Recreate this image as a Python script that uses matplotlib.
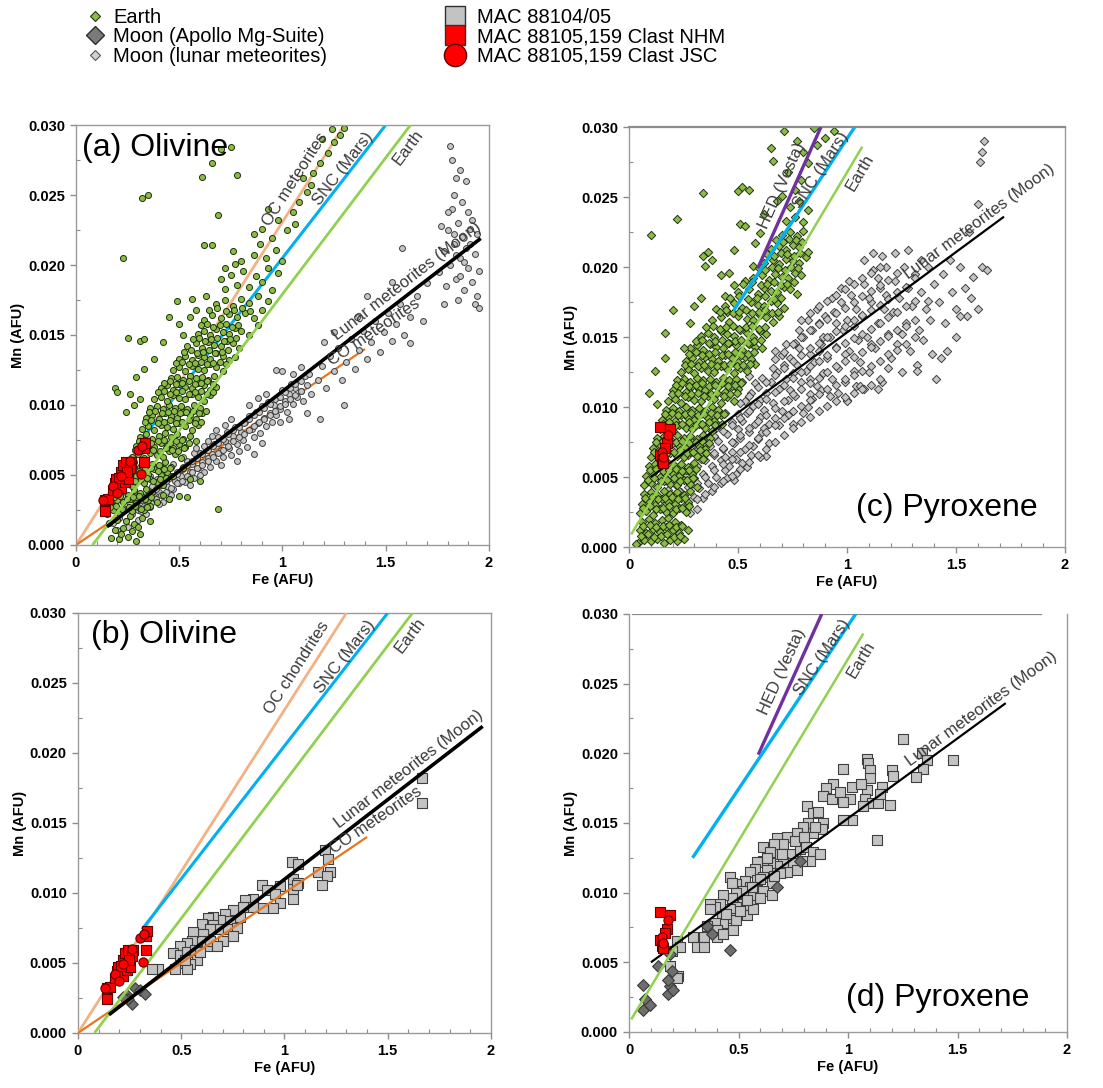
import matplotlib
matplotlib.use("Agg")
import matplotlib.pyplot as plt
from matplotlib.lines import Line2D
from matplotlib.ticker import MultipleLocator, FormatStrFormatter, FuncFormatter
import numpy as np

plt.rcParams['font.family'] = ['Liberation Sans', 'DejaVu Sans']

# ---------------- data (Fe AFU, Mn AFU) ----------------
earth_olivine = [
    (0.17,0.0005),(0.21,0.0004),(0.25,0.0006),(0.29,0.0003),(0.31,0.0008),(0.19,0.0011),(0.23,0.0012),(0.27,0.0010),
    (0.16,0.0016),(0.20,0.0018),(0.24,0.0017),(0.28,0.0015),(0.32,0.0019),(0.26,0.0021),(0.22,0.0008),(0.36,0.0017),(0.30,0.0013),
    (0.15,0.0022),(0.18,0.0025),(0.21,0.0023),(0.24,0.0026),(0.27,0.0024),(0.30,0.0027),(0.33,0.0025),(0.36,0.0028),
    (0.17,0.0030),(0.20,0.0032),(0.23,0.0031),(0.26,0.0033),(0.29,0.0030),(0.32,0.0034),(0.35,0.0032),(0.39,0.0031),
    (0.19,0.0037),(0.22,0.0038),(0.25,0.0036),(0.28,0.0039),(0.31,0.0037),(0.34,0.0040),(0.37,0.0038),(0.42,0.0036),(0.45,0.0033),(0.50,0.0035),
    (0.21,0.0043),(0.24,0.0045),(0.27,0.0042),(0.30,0.0046),(0.33,0.0044),(0.36,0.0047),(0.39,0.0045),(0.42,0.0043),
    (0.23,0.0050),(0.26,0.0052),(0.29,0.0049),(0.32,0.0053),(0.35,0.0051),(0.38,0.0054),(0.41,0.0050),(0.44,0.0052),(0.47,0.0049),
    (0.25,0.0057),(0.28,0.0059),(0.31,0.0056),(0.34,0.0060),(0.37,0.0058),(0.40,0.0057),(0.43,0.0059),(0.46,0.0056),(0.52,0.0055),(0.55,0.0047),
    (0.27,0.0063),(0.30,0.0065),(0.33,0.0062),(0.36,0.0066),(0.39,0.0064),(0.42,0.0063),(0.45,0.0067),(0.48,0.0065),(0.51,0.0062),
    (0.29,0.0071),(0.32,0.0069),(0.35,0.0072),(0.38,0.0070),(0.41,0.0073),(0.44,0.0071),(0.47,0.0069),(0.50,0.0072),(0.53,0.0070),
    (0.31,0.0077),(0.34,0.0079),(0.37,0.0076),(0.40,0.0078),(0.43,0.0080),(0.46,0.0077),(0.49,0.0079),(0.52,0.0076),(0.55,0.0078),(0.58,0.0074),
    (0.32,0.0083),(0.35,0.0085),(0.38,0.0082),(0.41,0.0086),(0.44,0.0084),(0.47,0.0083),(0.50,0.0087),(0.53,0.0085),(0.56,0.0082),(0.59,0.0086),
    (0.34,0.0091),(0.37,0.0093),(0.40,0.0090),(0.43,0.0094),(0.46,0.0092),(0.49,0.0091),(0.52,0.0095),(0.55,0.0093),(0.58,0.0090),(0.61,0.0094),
    (0.36,0.0098),(0.39,0.0099),(0.42,0.0097),(0.45,0.0100),(0.48,0.0098),(0.51,0.0099),(0.54,0.0097),(0.57,0.0100),(0.60,0.0098),(0.63,0.0096),
    (0.38,0.0104),(0.41,0.0106),(0.44,0.0103),(0.47,0.0107),(0.50,0.0105),(0.53,0.0104),(0.56,0.0108),(0.59,0.0106),(0.62,0.0103),(0.65,0.0107),
    (0.41,0.0112),(0.44,0.0114),(0.47,0.0111),(0.50,0.0115),(0.53,0.0113),(0.56,0.0112),(0.59,0.0116),(0.62,0.0114),(0.65,0.0111),(0.68,0.0113),
    (0.46,0.0119),(0.49,0.0120),(0.52,0.0118),(0.55,0.0121),(0.58,0.0119),(0.61,0.0120),(0.64,0.0118),(0.67,0.0121),
    (0.47,0.0125),(0.50,0.0127),(0.53,0.0124),(0.56,0.0128),(0.59,0.0126),(0.62,0.0125),(0.65,0.0129),(0.68,0.0127),(0.71,0.0124),
    (0.50,0.0133),(0.53,0.0135),(0.56,0.0132),(0.59,0.0136),(0.62,0.0134),(0.65,0.0133),(0.68,0.0137),(0.71,0.0135),(0.74,0.0132),(0.77,0.0134),
    (0.54,0.0142),(0.58,0.0144),(0.61,0.0141),(0.64,0.0145),(0.67,0.0143),(0.70,0.0142),(0.73,0.0146),(0.76,0.0144),(0.79,0.0141),
    (0.59,0.0151),(0.62,0.0153),(0.65,0.0150),(0.68,0.0154),(0.71,0.0152),(0.74,0.0151),(0.77,0.0155),(0.80,0.0153),(0.84,0.0150),(0.88,0.0157),
    (0.62,0.0161),(0.66,0.0164),(0.70,0.0162),(0.74,0.0165),(0.78,0.0163),(0.82,0.0166),(0.86,0.0162),(0.90,0.0168),
    (0.68,0.0172),(0.72,0.0175),(0.76,0.0171),(0.80,0.0176),(0.84,0.0173),(0.88,0.0178),(0.93,0.0174),(0.63,0.0178),(0.55,0.0163),(0.50,0.0158),
    (0.72,0.0183),(0.78,0.0186),(0.84,0.0184),(0.90,0.0188),(0.95,0.0182),(0.75,0.0193),(0.81,0.0196),(0.87,0.0192),(0.93,0.0198),(0.98,0.0194),
    (0.80,0.0203),(0.86,0.0207),(0.92,0.0205),(0.97,0.0211),(0.89,0.0215),(0.95,0.0219),(0.70,0.0190),(0.77,0.0201),(1.00,0.0203),
    (1.02,0.0225),(0.98,0.0232),(1.05,0.0238),(1.08,0.0245),(1.12,0.0252),(1.10,0.0262),(1.15,0.0266),(1.18,0.0273),(1.22,0.0280),
    (1.25,0.0288),(1.28,0.0293),(1.24,0.0297),(1.19,0.0290),(1.30,0.0298),(0.93,0.0240),(1.14,0.0257),(1.06,0.0229),
    (0.19,0.0112),(0.20,0.0109),(0.23,0.0205),(0.25,0.0148),(0.31,0.0146),(0.33,0.0147),(0.32,0.0248),(0.35,0.0250),(0.62,0.0214),
    (0.66,0.0214),(0.61,0.0263),(0.66,0.0273),(0.70,0.0283),(0.75,0.0284),(0.78,0.0264),(0.69,0.0236),(0.56,0.0176),(0.49,0.0174),
    (0.45,0.0163),(0.42,0.0145),(0.38,0.0133),(0.33,0.0126),(0.29,0.0120),(0.26,0.0108),(0.28,0.0100),(0.31,0.0104),(0.24,0.0095),
    (0.69,0.0026),(0.54,0.0034),(0.60,0.0046),(0.86,0.0222),(0.90,0.0226),(0.72,0.0198),(0.76,0.0210),(0.58,0.0168),(0.52,0.0150),
]
earth_olivine_core = [
    (0.165,0.0027),(0.195,0.0028),(0.225,0.0026),(0.255,0.0027),(0.285,0.0028),(0.315,0.0026),(0.345,0.0027),
    (0.185,0.0034),(0.215,0.0035),(0.245,0.0033),(0.275,0.0034),(0.305,0.0035),(0.335,0.0033),(0.365,0.0034),
    (0.225,0.0047),(0.255,0.0048),(0.285,0.0046),(0.315,0.0047),(0.345,0.0048),(0.375,0.0046),(0.405,0.0047),(0.435,0.0048),
    (0.245,0.0054),(0.275,0.0055),(0.305,0.0053),(0.335,0.0054),(0.365,0.0055),(0.395,0.0053),(0.425,0.0054),(0.455,0.0055),
    (0.285,0.0068),(0.315,0.0067),(0.345,0.0069),(0.375,0.0068),(0.405,0.0067),(0.435,0.0069),(0.465,0.0068),(0.495,0.0067),(0.525,0.0069),
    (0.305,0.0074),(0.335,0.0075),(0.365,0.0073),(0.395,0.0074),(0.425,0.0075),(0.455,0.0073),(0.485,0.0074),(0.515,0.0075),(0.545,0.0073),
    (0.335,0.0088),(0.365,0.0089),(0.395,0.0087),(0.425,0.0088),(0.455,0.0089),(0.485,0.0087),(0.515,0.0088),(0.545,0.0089),(0.575,0.0087),(0.605,0.0088),
    (0.355,0.0095),(0.385,0.0096),(0.415,0.0094),(0.445,0.0095),(0.475,0.0096),(0.505,0.0094),(0.535,0.0095),(0.565,0.0096),(0.595,0.0094),
    (0.395,0.0109),(0.425,0.0110),(0.455,0.0108),(0.485,0.0109),(0.515,0.0110),(0.545,0.0108),(0.575,0.0109),(0.605,0.0110),(0.635,0.0108),(0.665,0.0109),
    (0.425,0.0116),(0.455,0.0117),(0.485,0.0115),(0.515,0.0116),(0.545,0.0117),(0.575,0.0115),(0.605,0.0116),(0.635,0.0117),(0.665,0.0115),
    (0.485,0.0130),(0.515,0.0131),(0.545,0.0129),(0.575,0.0130),(0.605,0.0131),(0.635,0.0129),(0.665,0.0130),(0.695,0.0131),(0.725,0.0129),
    (0.525,0.0138),(0.555,0.0139),(0.585,0.0137),(0.615,0.0138),(0.645,0.0139),(0.675,0.0137),(0.705,0.0138),(0.735,0.0139),
    (0.565,0.0147),(0.595,0.0148),(0.625,0.0146),(0.655,0.0147),(0.685,0.0148),(0.715,0.0146),(0.745,0.0147),(0.775,0.0148),
    (0.605,0.0157),(0.635,0.0158),(0.665,0.0156),(0.695,0.0157),(0.725,0.0158),(0.755,0.0156),(0.785,0.0157),
    (0.645,0.0168),(0.685,0.0169),(0.725,0.0167),(0.765,0.0168),(0.805,0.0169),(0.845,0.0167),
]

lunar_olivine = [
    (0.18,0.0016),(0.21,0.0019),(0.24,0.0017),(0.27,0.0022),(0.30,0.0025),(0.33,0.0028),(0.22,0.0026),(0.26,0.0029),(0.29,0.0032),
    (0.32,0.0035),(0.35,0.0031),(0.20,0.0011),(0.25,0.0013),(0.30,0.0018),(0.34,0.0022),(0.23,0.0034),(0.28,0.0038),
    (0.36,0.0027),(0.38,0.0034),(0.40,0.0038),(0.42,0.0031),(0.44,0.0042),(0.46,0.0036),(0.48,0.0046),(0.37,0.0042),(0.39,0.0047),
    (0.41,0.0044),(0.43,0.0051),(0.45,0.0048),(0.47,0.0040),(0.49,0.0052),(0.50,0.0044),(0.40,0.0029),(0.45,0.0033),(0.42,0.0055),
    (0.47,0.0058),(0.36,0.0049),
    (0.51,0.0049),(0.52,0.0056),(0.53,0.0045),(0.54,0.0060),(0.55,0.0052),(0.56,0.0058),(0.57,0.0048),(0.58,0.0062),(0.59,0.0055),
    (0.60,0.0066),(0.61,0.0059),(0.62,0.0052),(0.63,0.0068),(0.64,0.0062),(0.65,0.0056),(0.52,0.0063),(0.57,0.0066),(0.60,0.0050),
    (0.62,0.0071),(0.55,0.0043),(0.64,0.0074),(0.58,0.0069),
    (0.66,0.0065),(0.67,0.0072),(0.68,0.0060),(0.69,0.0077),(0.70,0.0068),(0.71,0.0063),(0.72,0.0074),(0.73,0.0081),(0.74,0.0069),
    (0.75,0.0064),(0.76,0.0078),(0.77,0.0084),(0.78,0.0072),(0.79,0.0067),(0.80,0.0081),(0.68,0.0082),(0.72,0.0086),(0.75,0.0090),
    (0.70,0.0057),(0.78,0.0060),(0.66,0.0078),
    (0.81,0.0075),(0.82,0.0088),(0.83,0.0070),(0.84,0.0092),(0.85,0.0083),(0.86,0.0077),(0.87,0.0095),(0.88,0.0087),(0.89,0.0080),
    (0.90,0.0099),(0.91,0.0091),(0.92,0.0085),(0.93,0.0102),(0.94,0.0094),(0.95,0.0088),(0.84,0.0100),(0.88,0.0105),(0.92,0.0108),
    (0.86,0.0065),(0.90,0.0073),
    (0.96,0.0100),(0.97,0.0093),(0.98,0.0106),(0.99,0.0097),(1.00,0.0111),(1.01,0.0103),(1.02,0.0095),(1.03,0.0108),(1.04,0.0115),
    (1.05,0.0101),(1.06,0.0112),(1.07,0.0106),(1.08,0.0118),(1.09,0.0110),(1.10,0.0103),(1.11,0.0121),(1.12,0.0114),(1.14,0.0108),
    (1.00,0.0124),(1.05,0.0122),(1.09,0.0127),(1.13,0.0122),(0.99,0.0088),(1.03,0.0090),
    (1.17,0.0118),(1.19,0.0128),(1.21,0.0112),(1.23,0.0135),(1.25,0.0124),(1.27,0.0141),(1.29,0.0118),(1.31,0.0131),(1.33,0.0147),
    (1.35,0.0126),(1.37,0.0139),(1.39,0.0153),(1.41,0.0133),(1.43,0.0145),(1.45,0.0160),(1.47,0.0138),(1.49,0.0152),(1.51,0.0166),
    (1.53,0.0146),(1.55,0.0158),(1.57,0.0172),(1.59,0.0150),(1.62,0.0163),(1.65,0.0178),(1.68,0.0160),(1.70,0.0187),(1.62,0.0144),
    (1.30,0.0100),(1.18,0.0090),(1.41,0.0178),(1.36,0.0163),(1.25,0.0152),(1.53,0.0188),(1.58,0.0212),(1.20,0.0145),(0.97,0.0125),
    (1.12,0.0094),
    (1.76,0.0195),(1.78,0.0210),(1.79,0.0185),(1.80,0.0225),(1.81,0.0200),(1.82,0.0240),(1.83,0.0215),(1.84,0.0190),(1.85,0.0230),
    (1.86,0.0205),(1.87,0.0220),(1.88,0.0182),(1.89,0.0212),(1.90,0.0198),(1.91,0.0226),(1.92,0.0188),(1.93,0.0208),(1.94,0.0178),
    (1.95,0.0196),(1.83,0.0250),(1.84,0.0262),(1.82,0.0275),(1.81,0.0285),(1.86,0.0268),(1.87,0.0245),(1.90,0.0238),(1.92,0.0232),
    (1.88,0.0202),(1.85,0.0175),(1.93,0.0172),(1.78,0.0172),(1.89,0.0260),(1.91,0.0215),(1.94,0.0222),(1.80,0.0238),(1.86,0.0192),
    (1.84,0.0207),(1.77,0.0228),(1.95,0.0169),(1.83,0.0222),
]
lunar_olivine_core = [
    (0.3125,0.0032),(0.3125,0.0024),(0.3375,0.0035),(0.3375,0.0027),(0.3625,0.0038),(0.3625,0.0030),(0.3875,0.0040),(0.3875,0.0033),
    (0.4125,0.0043),(0.4125,0.0036),(0.4375,0.0046),(0.4375,0.0038),(0.4625,0.0049),(0.4625,0.0041),(0.4875,0.0051),(0.4875,0.0044),
    (0.5125,0.0054),(0.5125,0.0046),(0.5375,0.0057),(0.5375,0.0049),(0.5625,0.0060),(0.5625,0.0052),(0.5875,0.0062),(0.5875,0.0055),
    (0.6125,0.0065),(0.6125,0.0057),(0.6375,0.0068),(0.6375,0.0060),(0.6625,0.0071),(0.6625,0.0063),(0.6875,0.0073),(0.6875,0.0066),
    (0.7125,0.0076),(0.7125,0.0068),(0.7375,0.0079),(0.7375,0.0071),(0.7625,0.0082),(0.7625,0.0074),(0.7875,0.0084),(0.7875,0.0077),
    (0.8125,0.0087),(0.8125,0.0079),(0.8375,0.0090),(0.8375,0.0082),(0.8625,0.0093),(0.8625,0.0085),(0.8875,0.0095),(0.8875,0.0088),
    (0.9125,0.0098),(0.9125,0.0090),(0.9375,0.0101),(0.9375,0.0093),(0.9625,0.0104),(0.9625,0.0096),(0.9875,0.0106),(0.9875,0.0099),
    (1.0125,0.0109),(1.0125,0.0101),(1.0375,0.0112),(1.0375,0.0104),(1.0625,0.0115),(1.0625,0.0107),(1.0875,0.0117),(1.0875,0.0110),
]

earth_pyroxene = [
    (0.04,0.0003),(0.07,0.0005),(0.10,0.0004),(0.13,0.0006),(0.16,0.0003),(0.19,0.0005),(0.22,0.0004),(0.25,0.0006),
    (0.05,0.0012),(0.08,0.0010),(0.11,0.0013),(0.14,0.0011),(0.17,0.0014),(0.20,0.0012),(0.23,0.0010),
    (0.06,0.0018),(0.09,0.0020),(0.12,0.0017),(0.15,0.0019),(0.18,0.0021),(0.21,0.0018),(0.24,0.0016),(0.27,0.0012),
    (0.05,0.0024),(0.08,0.0026),(0.11,0.0023),(0.14,0.0027),(0.17,0.0025),(0.20,0.0024),(0.23,0.0028),(0.26,0.0025),
    (0.06,0.0031),(0.09,0.0033),(0.12,0.0030),(0.15,0.0034),(0.18,0.0032),(0.21,0.0031),(0.24,0.0035),(0.27,0.0032),
    (0.07,0.0038),(0.10,0.0039),(0.13,0.0037),(0.16,0.0040),(0.19,0.0038),(0.22,0.0039),(0.25,0.0037),(0.28,0.0040),
    (0.07,0.0044),(0.10,0.0046),(0.13,0.0043),(0.16,0.0047),(0.19,0.0045),(0.22,0.0044),(0.25,0.0048),(0.28,0.0045),(0.31,0.0043),
    (0.08,0.0051),(0.11,0.0053),(0.14,0.0050),(0.17,0.0054),(0.20,0.0052),(0.23,0.0051),(0.26,0.0055),(0.29,0.0052),
    (0.09,0.0058),(0.12,0.0059),(0.15,0.0057),(0.18,0.0060),(0.21,0.0058),(0.24,0.0059),(0.27,0.0057),(0.30,0.0060),
    (0.10,0.0064),(0.13,0.0066),(0.16,0.0063),(0.19,0.0067),(0.22,0.0065),(0.25,0.0064),(0.28,0.0068),(0.31,0.0065),(0.34,0.0063),
    (0.11,0.0071),(0.14,0.0073),(0.17,0.0070),(0.20,0.0074),(0.23,0.0072),(0.26,0.0071),(0.29,0.0075),(0.32,0.0072),(0.35,0.0070),
    (0.13,0.0078),(0.16,0.0079),(0.19,0.0077),(0.22,0.0080),(0.25,0.0078),(0.28,0.0079),(0.31,0.0077),(0.34,0.0080),(0.37,0.0078),
    (0.14,0.0084),(0.17,0.0086),(0.20,0.0083),(0.23,0.0087),(0.26,0.0085),(0.29,0.0084),(0.32,0.0088),(0.35,0.0085),(0.38,0.0083),(0.41,0.0087),
    (0.15,0.0091),(0.18,0.0093),(0.21,0.0090),(0.24,0.0094),(0.27,0.0092),(0.30,0.0091),(0.33,0.0095),(0.36,0.0092),(0.39,0.0090),(0.42,0.0094),
    (0.17,0.0098),(0.20,0.0099),(0.23,0.0097),(0.26,0.0100),(0.29,0.0098),(0.32,0.0099),(0.35,0.0097),(0.38,0.0100),(0.41,0.0098),(0.44,0.0096),
    (0.18,0.0104),(0.21,0.0106),(0.24,0.0103),(0.27,0.0107),(0.30,0.0105),(0.33,0.0104),(0.36,0.0108),(0.39,0.0106),(0.42,0.0103),(0.45,0.0107),(0.48,0.0104),
    (0.20,0.0112),(0.23,0.0114),(0.26,0.0111),(0.29,0.0115),(0.32,0.0113),(0.35,0.0112),(0.38,0.0116),(0.41,0.0114),(0.44,0.0111),(0.47,0.0115),(0.50,0.0113),
    (0.22,0.0119),(0.25,0.0120),(0.28,0.0118),(0.31,0.0121),(0.34,0.0119),(0.37,0.0120),(0.40,0.0118),(0.43,0.0121),(0.46,0.0119),(0.49,0.0120),(0.52,0.0118),
    (0.24,0.0125),(0.27,0.0127),(0.30,0.0124),(0.33,0.0128),(0.36,0.0126),(0.39,0.0125),(0.42,0.0129),(0.45,0.0127),(0.48,0.0124),(0.51,0.0128),(0.54,0.0126),
    (0.26,0.0133),(0.29,0.0135),(0.32,0.0132),(0.35,0.0136),(0.38,0.0134),(0.41,0.0133),(0.44,0.0137),(0.47,0.0135),(0.50,0.0132),(0.53,0.0136),(0.56,0.0134),(0.58,0.0131),
    (0.28,0.0142),(0.31,0.0144),(0.34,0.0141),(0.37,0.0145),(0.40,0.0143),(0.43,0.0142),(0.46,0.0146),(0.49,0.0144),(0.52,0.0141),(0.55,0.0145),(0.58,0.0143),(0.61,0.0142),
    (0.33,0.0151),(0.36,0.0153),(0.39,0.0150),(0.42,0.0154),(0.45,0.0152),(0.48,0.0151),(0.51,0.0155),(0.54,0.0153),(0.57,0.0150),(0.60,0.0154),(0.63,0.0152),
    (0.38,0.0162),(0.42,0.0164),(0.46,0.0161),(0.50,0.0165),(0.54,0.0163),(0.57,0.0162),(0.60,0.0166),(0.63,0.0164),(0.66,0.0161),(0.69,0.0165),
    (0.44,0.0172),(0.48,0.0174),(0.52,0.0171),(0.56,0.0175),(0.59,0.0173),(0.62,0.0172),(0.65,0.0176),(0.68,0.0174),(0.71,0.0171),
    (0.50,0.0182),(0.55,0.0184),(0.59,0.0181),(0.62,0.0185),(0.65,0.0183),(0.68,0.0182),(0.71,0.0186),(0.74,0.0184),(0.77,0.0181),
    (0.57,0.0192),(0.61,0.0194),(0.64,0.0191),(0.67,0.0195),(0.70,0.0193),(0.73,0.0192),(0.76,0.0196),(0.79,0.0194),(0.53,0.0190),
    (0.62,0.0203),(0.66,0.0205),(0.69,0.0202),(0.72,0.0206),(0.75,0.0204),(0.78,0.0203),(0.81,0.0207),(0.65,0.0213),(0.69,0.0215),
    (0.72,0.0212),(0.75,0.0216),(0.78,0.0214),(0.82,0.0211),(0.70,0.0223),(0.74,0.0225),(0.77,0.0222),(0.80,0.0226),
    (0.72,0.0233),(0.76,0.0236),(0.80,0.0232),(0.74,0.0243),(0.78,0.0247),(0.82,0.0241),(0.70,0.0251),(0.76,0.0255),(0.79,0.0262),
    (0.73,0.0268),(0.66,0.0276),(0.82,0.0274),(0.71,0.0297),(0.65,0.0285),(0.86,0.0287),(0.90,0.0292),(0.85,0.0299),(0.94,0.0297),
    (0.80,0.0282),(0.77,0.0290),
    (0.10,0.0223),(0.22,0.0234),(0.34,0.0253),(0.50,0.0254),(0.52,0.0257),(0.55,0.0255),(0.51,0.0231),(0.53,0.0229),(0.34,0.0208),
    (0.36,0.0211),(0.38,0.0205),(0.35,0.0201),(0.20,0.0169),(0.165,0.0153),(0.165,0.0135),(0.25,0.0142),(0.30,0.0172),(0.33,0.0178),
    (0.28,0.0160),(0.48,0.0187),(0.46,0.0196),(0.44,0.0179),(0.58,0.0217),(0.60,0.0224),(0.48,0.0212),(0.42,0.0194),(0.09,0.0110),
    (0.12,0.0126),(0.13,0.0102),(0.40,0.0170),(0.45,0.0168),(0.68,0.0247),(0.62,0.0238),(0.57,0.0201),(0.03,0.0002),
]
earth_pyroxene_core = [
    (0.055,0.0008),(0.085,0.0009),(0.115,0.0007),(0.145,0.0008),(0.175,0.0009),(0.205,0.0007),(0.235,0.0008),
    (0.065,0.0015),(0.095,0.0016),(0.125,0.0014),(0.155,0.0015),(0.185,0.0016),(0.215,0.0014),(0.245,0.0015),
    (0.065,0.0028),(0.095,0.0029),(0.125,0.0027),(0.155,0.0028),(0.185,0.0029),(0.215,0.0027),(0.245,0.0028),(0.275,0.0029),
    (0.075,0.0035),(0.105,0.0036),(0.135,0.0034),(0.165,0.0035),(0.195,0.0036),(0.225,0.0034),(0.255,0.0035),
    (0.085,0.0048),(0.115,0.0049),(0.145,0.0047),(0.175,0.0048),(0.205,0.0049),(0.235,0.0047),(0.265,0.0048),(0.295,0.0049),
    (0.095,0.0055),(0.125,0.0056),(0.155,0.0054),(0.185,0.0055),(0.215,0.0056),(0.245,0.0054),(0.275,0.0055),(0.305,0.0056),
    (0.115,0.0068),(0.145,0.0069),(0.175,0.0067),(0.205,0.0068),(0.235,0.0069),(0.265,0.0067),(0.295,0.0068),(0.325,0.0069),(0.355,0.0067),
    (0.125,0.0075),(0.155,0.0076),(0.185,0.0074),(0.215,0.0075),(0.245,0.0076),(0.275,0.0074),(0.305,0.0075),(0.335,0.0076),(0.365,0.0074),
    (0.155,0.0088),(0.185,0.0089),(0.215,0.0087),(0.245,0.0088),(0.275,0.0089),(0.305,0.0087),(0.335,0.0088),(0.365,0.0089),(0.395,0.0087),(0.425,0.0088),
    (0.165,0.0095),(0.195,0.0096),(0.225,0.0094),(0.255,0.0095),(0.285,0.0096),(0.315,0.0094),(0.345,0.0095),(0.375,0.0096),(0.405,0.0094),(0.435,0.0095),
    (0.195,0.0109),(0.225,0.0110),(0.255,0.0108),(0.285,0.0109),(0.315,0.0110),(0.345,0.0108),(0.375,0.0109),(0.405,0.0110),(0.435,0.0108),(0.465,0.0109),(0.495,0.0110),
    (0.215,0.0116),(0.245,0.0117),(0.275,0.0115),(0.305,0.0116),(0.335,0.0117),(0.365,0.0115),(0.395,0.0116),(0.425,0.0117),(0.455,0.0115),(0.485,0.0116),(0.515,0.0117),
    (0.255,0.0130),(0.285,0.0131),(0.315,0.0129),(0.345,0.0130),(0.375,0.0131),(0.405,0.0129),(0.435,0.0130),(0.465,0.0131),(0.495,0.0129),(0.525,0.0130),(0.555,0.0131),
    (0.275,0.0138),(0.305,0.0139),(0.335,0.0137),(0.365,0.0138),(0.395,0.0139),(0.425,0.0137),(0.455,0.0138),(0.485,0.0139),(0.515,0.0137),(0.545,0.0138),(0.575,0.0139),
    (0.305,0.0147),(0.335,0.0148),(0.365,0.0146),(0.395,0.0147),(0.425,0.0148),(0.455,0.0146),(0.485,0.0147),(0.515,0.0148),(0.545,0.0146),(0.575,0.0147),(0.605,0.0148),
    (0.355,0.0157),(0.385,0.0158),(0.415,0.0156),(0.445,0.0157),(0.475,0.0158),(0.505,0.0156),(0.535,0.0157),(0.565,0.0158),(0.595,0.0156),(0.625,0.0157),
    (0.415,0.0168),(0.445,0.0169),(0.475,0.0167),(0.505,0.0168),(0.535,0.0169),(0.565,0.0167),(0.595,0.0168),(0.625,0.0169),(0.655,0.0167),(0.685,0.0168),
    (0.465,0.0178),(0.505,0.0179),(0.545,0.0177),(0.585,0.0178),(0.625,0.0179),(0.665,0.0177),(0.695,0.0178),
    (0.525,0.0188),(0.565,0.0189),(0.605,0.0187),(0.635,0.0188),(0.665,0.0189),(0.695,0.0187),(0.725,0.0188),(0.755,0.0189),
    (0.595,0.0199),(0.625,0.0198),(0.655,0.0200),(0.685,0.0199),(0.715,0.0198),(0.745,0.0200),(0.775,0.0199),
    (0.635,0.0209),(0.665,0.0208),(0.695,0.0210),(0.725,0.0209),(0.755,0.0208),(0.785,0.0210),
    (0.675,0.0219),(0.705,0.0218),(0.735,0.0220),(0.765,0.0219),(0.795,0.0218),
]

lunar_pyroxene = [
    (0.16,0.0030),(0.19,0.0026),(0.22,0.0034),(0.25,0.0029),(0.28,0.0024),(0.18,0.0041),(0.21,0.0045),(0.24,0.0039),(0.27,0.0047),
    (0.30,0.0036),(0.20,0.0053),(0.23,0.0056),(0.26,0.0051),(0.29,0.0058),(0.31,0.0027),(0.17,0.0049),(0.30,0.0049),
    (0.32,0.0042),(0.34,0.0052),(0.36,0.0046),(0.38,0.0058),(0.40,0.0050),(0.42,0.0062),(0.44,0.0055),(0.33,0.0063),(0.35,0.0068),
    (0.37,0.0072),(0.39,0.0066),(0.41,0.0076),(0.43,0.0070),(0.45,0.0081),(0.34,0.0035),(0.38,0.0040),(0.42,0.0046),(0.36,0.0078),
    (0.40,0.0085),(0.44,0.0064),(0.31,0.0071),(0.45,0.0049),
    (0.46,0.0058),(0.47,0.0068),(0.48,0.0074),(0.49,0.0063),(0.50,0.0084),(0.51,0.0078),(0.52,0.0090),(0.53,0.0070),(0.54,0.0096),
    (0.55,0.0082),(0.56,0.0066),(0.57,0.0101),(0.58,0.0088),(0.59,0.0077),(0.60,0.0105),(0.47,0.0089),(0.50,0.0095),(0.53,0.0104),
    (0.56,0.0110),(0.58,0.0117),(0.52,0.0060),(0.57,0.0072),(0.49,0.0052),(0.60,0.0093),(0.55,0.0122),
    (0.61,0.0082),(0.62,0.0098),(0.63,0.0110),(0.64,0.0088),(0.65,0.0118),(0.66,0.0103),(0.67,0.0092),(0.68,0.0125),(0.69,0.0113),
    (0.70,0.0097),(0.71,0.0130),(0.72,0.0120),(0.73,0.0105),(0.74,0.0135),(0.75,0.0124),(0.62,0.0085),(0.66,0.0128),(0.70,0.0137),
    (0.74,0.0112),(0.64,0.0074),(0.69,0.0087),(0.73,0.0094),(0.61,0.0121),(0.67,0.0140),(0.72,0.0145),(0.63,0.0065),
    (0.76,0.0108),(0.77,0.0130),(0.78,0.0142),(0.79,0.0118),(0.80,0.0150),(0.81,0.0126),(0.82,0.0100),(0.83,0.0138),(0.84,0.0155),
    (0.85,0.0132),(0.86,0.0115),(0.87,0.0160),(0.88,0.0145),(0.89,0.0124),(0.90,0.0165),(0.78,0.0155),(0.82,0.0162),(0.86,0.0170),
    (0.80,0.0096),(0.84,0.0106),(0.88,0.0112),(0.76,0.0146),(0.83,0.0120),(0.87,0.0140),(0.89,0.0150),
    (0.91,0.0135),(0.92,0.0150),(0.93,0.0120),(0.94,0.0168),(0.95,0.0143),(0.96,0.0128),(0.97,0.0175),(0.98,0.0155),(0.99,0.0118),
    (1.00,0.0162),(1.01,0.0140),(1.02,0.0180),(1.03,0.0126),(1.04,0.0170),(1.05,0.0148),(0.93,0.0178),(0.97,0.0185),(1.01,0.0190),
    (0.92,0.0108),(0.96,0.0110),(1.00,0.0105),(1.04,0.0115),(0.95,0.0160),(0.99,0.0138),(1.03,0.0158),
    (1.06,0.0132),(1.07,0.0165),(1.08,0.0188),(1.09,0.0150),(1.10,0.0125),(1.11,0.0175),(1.12,0.0198),(1.13,0.0142),(1.14,0.0160),
    (1.15,0.0185),(1.16,0.0118),(1.17,0.0170),(1.18,0.0200),(1.19,0.0152),(1.20,0.0135),(1.08,0.0205),(1.12,0.0210),(1.16,0.0208),
    (1.06,0.0115),(1.10,0.0178),(1.14,0.0192),(1.18,0.0180),(1.11,0.0145),(1.19,0.0128),
    (1.21,0.0168),(1.22,0.0190),(1.23,0.0145),(1.24,0.0178),(1.25,0.0125),(1.26,0.0200),(1.27,0.0160),(1.28,0.0185),(1.29,0.0140),
    (1.30,0.0172),(1.31,0.0195),(1.32,0.0130),(1.33,0.0155),(1.34,0.0182),(1.35,0.0148),(1.36,0.0170),(1.37,0.0200),(1.38,0.0162),
    (1.39,0.0138),(1.40,0.0188),(1.22,0.0210),(1.28,0.0212),(1.34,0.0205),(1.25,0.0152),(1.31,0.0162),(1.37,0.0176),
    (1.42,0.0175),(1.44,0.0195),(1.45,0.0160),(1.47,0.0205),(1.48,0.0182),(1.50,0.0170),(1.52,0.0200),(1.54,0.0185),(1.55,0.0165),
    (1.57,0.0178),(1.58,0.0193),(1.60,0.0170),(1.62,0.0200),(1.64,0.0198),(1.56,0.0225),(1.60,0.0245),(1.62,0.0282),(1.63,0.0290),
    (1.61,0.0275),(1.52,0.0165),(1.43,0.0135),(1.46,0.0140),(1.50,0.0150),(1.41,0.0120),
    (1.32,0.0126),(1.14,0.0113),(1.08,0.0113),(1.00,0.0104),(0.83,0.0109),(0.60,0.0064),(0.75,0.0088),(0.54,0.0057),(0.48,0.0048),
]
lunar_pyroxene_core = [
    (0.23,0.0028),(0.23,0.0040),(0.23,0.0052),
    (0.27,0.0031),(0.27,0.0043),(0.27,0.0055),(0.27,0.0066),
    (0.31,0.0034),(0.31,0.0046),(0.31,0.0058),(0.31,0.0069),
    (0.35,0.0038),(0.35,0.0050),(0.35,0.0062),(0.35,0.0074),
    (0.39,0.0043),(0.39,0.0055),(0.39,0.0067),(0.39,0.0079),
    (0.43,0.0047),(0.43,0.0059),(0.43,0.0071),(0.43,0.0083),
    (0.47,0.0051),(0.47,0.0063),(0.47,0.0075),(0.47,0.0087),
    (0.51,0.0056),(0.51,0.0068),(0.51,0.0080),(0.51,0.0092),(0.51,0.0103),
    (0.55,0.0061),(0.55,0.0073),(0.55,0.0085),(0.55,0.0097),(0.55,0.0108),
    (0.59,0.0066),(0.59,0.0078),(0.59,0.0090),(0.59,0.0102),(0.59,0.0114),
    (0.63,0.0070),(0.63,0.0082),(0.63,0.0094),(0.63,0.0106),(0.63,0.0118),
    (0.67,0.0075),(0.67,0.0087),(0.67,0.0099),(0.67,0.0111),(0.67,0.0123),(0.67,0.0134),
    (0.71,0.0080),(0.71,0.0092),(0.71,0.0104),(0.71,0.0116),(0.71,0.0128),(0.71,0.0139),
    (0.75,0.0085),(0.75,0.0097),(0.75,0.0109),(0.75,0.0121),(0.75,0.0133),(0.75,0.0145),
    (0.79,0.0089),(0.79,0.0101),(0.79,0.0113),(0.79,0.0125),(0.79,0.0137),(0.79,0.0150),(0.79,0.0162),
    (0.83,0.0093),(0.83,0.0105),(0.83,0.0117),(0.83,0.0129),(0.83,0.0142),(0.83,0.0155),(0.83,0.0167),
    (0.87,0.0097),(0.87,0.0109),(0.87,0.0121),(0.87,0.0133),(0.87,0.0146),(0.87,0.0159),(0.87,0.0172),
    (0.91,0.0101),(0.91,0.0113),(0.91,0.0125),(0.91,0.0137),(0.91,0.0150),(0.91,0.0163),(0.91,0.0176),
    (0.95,0.0104),(0.95,0.0116),(0.95,0.0129),(0.95,0.0142),(0.95,0.0154),(0.95,0.0167),(0.95,0.0180),
    (0.99,0.0107),(0.99,0.0120),(0.99,0.0133),(0.99,0.0146),(0.99,0.0158),(0.99,0.0171),(0.99,0.0184),
    (1.03,0.0110),(1.03,0.0123),(1.03,0.0136),(1.03,0.0149),(1.03,0.0162),(1.03,0.0175),(1.03,0.0188),
    (1.07,0.0113),(1.07,0.0126),(1.07,0.0139),(1.07,0.0152),(1.07,0.0166),(1.07,0.0179),(1.07,0.0192),
    (1.11,0.0116),(1.11,0.0129),(1.11,0.0143),(1.11,0.0156),(1.11,0.0169),(1.11,0.0183),(1.11,0.0196),
    (1.15,0.0120),(1.15,0.0133),(1.15,0.0147),(1.15,0.0160),(1.15,0.0173),(1.15,0.0187),(1.15,0.0200),
    (1.19,0.0138),(1.19,0.0151),(1.19,0.0164),(1.19,0.0177),(1.19,0.0191),
    (1.23,0.0141),(1.23,0.0155),(1.23,0.0168),(1.23,0.0182),(1.23,0.0196),
    (1.27,0.0145),(1.27,0.0158),(1.27,0.0172),(1.27,0.0186),
    (1.31,0.0150),(1.31,0.0176),(1.31,0.0192),
]

# MAC 88104/05 (grey squares)
mac_olivine = [
    (1.667,0.0182),(1.667,0.0164),(1.196,0.0131),(1.212,0.0124),(1.164,0.0115),(1.220,0.0115),(1.204,0.0112),(1.180,0.0106),
    (1.035,0.0122),(1.067,0.0121),(1.043,0.0110),(1.067,0.0107),(1.043,0.0103),(1.060,0.0106),(1.043,0.0096),(0.978,0.0105),
    (0.890,0.0106),(0.914,0.0102),(0.954,0.0099),(0.978,0.0093),(0.946,0.0089),(0.898,0.0089),(0.850,0.0096),(0.809,0.0095),
    (0.850,0.0090),(0.800,0.0090),(0.785,0.0083),(0.752,0.0088),(0.712,0.0085),(0.736,0.0080),(0.688,0.0081),(0.655,0.0083),
    (0.631,0.0082),(0.599,0.0078),(0.655,0.0077),(0.680,0.0074),(0.728,0.0074),(0.768,0.0075),(0.752,0.0069),(0.639,0.0074),
    (0.607,0.0071),(0.591,0.0066),(0.559,0.0072),(0.551,0.0066),(0.526,0.0064),(0.494,0.0062),(0.462,0.0057),(0.494,0.0056),
    (0.526,0.0058),(0.567,0.0059),(0.623,0.0062),(0.575,0.0052),(0.542,0.0049),(0.510,0.0050),(0.470,0.0046),(0.526,0.0046),
    (0.389,0.0046),(0.357,0.0046),(0.639,0.0066),(0.704,0.0066),(0.672,0.0062),(0.518,0.0052),(0.591,0.0058),
]
mac_pyroxene = [
    (1.253,0.0210),(1.478,0.0195),(1.085,0.0196),(1.090,0.0193),(1.200,0.0188),(0.979,0.0189),(1.207,0.0184),(1.336,0.0200),
    (1.360,0.0195),(1.340,0.0189),(1.310,0.0183),(1.100,0.0188),(1.100,0.0182),(0.930,0.0178),(0.900,0.0175),(1.020,0.0176),
    (1.085,0.0174),(1.060,0.0178),(0.887,0.0169),(0.925,0.0167),(0.963,0.0172),(1.010,0.0167),(0.979,0.0165),(1.077,0.0167),
    (1.108,0.0164),(1.138,0.0164),(1.154,0.0176),(1.146,0.0171),(1.070,0.0162),(1.190,0.0163),(1.017,0.0152),(0.979,0.0152),
    (1.130,0.0138),
    (0.811,0.0162),(0.842,0.0157),(0.864,0.0158),(0.819,0.0150),(0.887,0.0150),(0.880,0.0146),(0.842,0.0143),(0.796,0.0147),
    (0.766,0.0143),(0.720,0.0140),(0.674,0.0139),(0.705,0.0135),(0.660,0.0135),(0.613,0.0133),(0.644,0.0129),(0.690,0.0128),
    (0.735,0.0128),(0.781,0.0131),(0.810,0.0133),(0.842,0.0129),(0.872,0.0128),(0.826,0.0123),(0.788,0.0123),(0.750,0.0121),
    (0.765,0.0116),(0.705,0.0122),(0.674,0.0119),(0.644,0.0121),(0.613,0.0123),(0.583,0.0122),(0.575,0.0117),(0.553,0.0115),
    (0.628,0.0116),(0.720,0.0115),(0.690,0.0114),(0.613,0.0111),(0.583,0.0109),(0.651,0.0107),(0.530,0.0108),(0.490,0.0106),
    (0.460,0.0111),(0.469,0.0107),(0.553,0.0104),(0.583,0.0102),(0.613,0.0101),(0.651,0.0098),(0.598,0.0096),(0.553,0.0098),
    (0.522,0.0101),(0.490,0.0100),(0.469,0.0096),(0.522,0.0092),(0.553,0.0091),(0.490,0.0090),(0.461,0.0088),(0.430,0.0098),
    (0.415,0.0092),(0.392,0.0090),(0.370,0.0092),(0.370,0.0088),(0.423,0.0083),(0.469,0.0082),(0.430,0.0078),(0.392,0.0078),
    (0.400,0.0073),(0.355,0.0076),(0.340,0.0068),(0.294,0.0068),(0.310,0.0061),(0.340,0.0061),(0.400,0.0068),(0.430,0.0070),
    (0.476,0.0073),(0.490,0.0080),(0.537,0.0084),(0.568,0.0088),(0.218,0.0065),(0.233,0.0061),(0.195,0.0058),(0.225,0.0040),
    (0.187,0.0047),(0.218,0.0039),(0.600,0.0110),(0.540,0.0095),(0.505,0.0087),(0.445,0.0085),(0.660,0.0112),(0.700,0.0128),
    (0.760,0.0137),(0.800,0.0140),(0.850,0.0147),(0.560,0.0104),(0.630,0.0125),
]

# Moon (Apollo Mg-Suite) (dark grey diamonds)
apollo_olivine = [(0.260,0.0021),(0.236,0.0027),(0.276,0.0032),(0.300,0.0031),(0.324,0.0028),(0.244,0.0024),(0.220,0.0026)]
apollo_pyroxene = [
    (0.065,0.0034),(0.073,0.0024),(0.065,0.0016),(0.096,0.0019),(0.134,0.0047),(0.180,0.0027),(0.187,0.0033),(0.195,0.0044),
    (0.180,0.0037),(0.202,0.0030),(0.461,0.0059),(0.355,0.0076),(0.378,0.0070),(0.674,0.0104),(0.781,0.0123),(0.187,0.0056),
]

# MAC 88105,159 clast (red)
nhm_olivine = [
    (0.14,0.0024),(0.14,0.0032),(0.155,0.0033),(0.18,0.0039),(0.19,0.0044),(0.195,0.0047),(0.22,0.0041),(0.235,0.0045),
    (0.25,0.0047),(0.22,0.0052),(0.23,0.0057),(0.24,0.0059),(0.265,0.0059),(0.26,0.0055),(0.245,0.0052),(0.33,0.0059),
    (0.33,0.0069),(0.335,0.0073),(0.21,0.0048),
]
jsc_olivine = [(0.13,0.0032),(0.30,0.0068),(0.315,0.0051),(0.18,0.0042),(0.22,0.0049),(0.26,0.0060),(0.32,0.0071),(0.20,0.0037)]
nhm_pyroxene = [(0.142,0.0086),(0.187,0.0084),(0.172,0.0074),(0.164,0.0071),(0.142,0.0066),(0.149,0.0062),(0.157,0.0060)]
jsc_pyroxene = [(0.150,0.0068),(0.155,0.0064),(0.180,0.0080)]

# Reference trend lines: name -> ((Fe0, Mn0), (Fe1, Mn1))
olivine_lines = {
    'OC': ((0.0, 0.0), (1.30, 0.030)),
    'SNC': ((0.31, 0.0074), (1.50, 0.030)),
    'Earth': ((0.08, 0.0), (1.62, 0.030)),
    'Moon': ((0.15, 0.0013), (1.96, 0.0219)),
    'CO': ((0.0, 0.0), (1.40, 0.0140)),
}
pyroxene_lines_c = {
    'HED': ((0.59, 0.0199), (0.88, 0.030)),
    'SNC': ((0.48, 0.0169), (1.035, 0.030)),
    'Earth': ((0.01, 0.0009), (1.07, 0.0286)),
    'Moon': ((0.10, 0.0050), (1.72, 0.0236)),
}
pyroxene_lines_d = dict(pyroxene_lines_c)
pyroxene_lines_d['SNC'] = ((0.29, 0.0125), (1.035, 0.030))

xticks = [0, 0.5, 1, 1.5, 2]
yticks = [0.000, 0.005, 0.010, 0.015, 0.020, 0.025, 0.030]

# ---------------- styles ----------------
C_EARTH_F, C_EARTH_E = '#8CBB48', '#1E340C'
C_LUN_F, C_LUN_E = '#C6C6C6', '#3E3E3E'
C_MAC_F, C_MAC_E = '#C3C3C3', '#3F3F3F'
C_APO_F, C_APO_E = '#6E6E6E', '#3A3A3A'
C_RED_F, C_RED_E = '#FF0000', '#600000'
LINE_COL = {'OC': '#F4B183', 'SNC': '#00B0F0', 'Earth': '#92D050', 'Moon': '#000000',
            'CO': '#E8761E', 'HED': '#7030A0'}
TXT = '#3A3A3A'

fig = plt.figure(figsize=(11.03, 10.88), dpi=100)
ax_a = fig.add_axes([0.0689, 0.4991, 0.3744, 0.3860])
ax_b = fig.add_axes([0.0707, 0.0506, 0.3744, 0.3860])
ax_c = fig.add_axes([0.5703, 0.4972, 0.3953, 0.3860])
ax_d = fig.add_axes([0.5703, 0.0515, 0.3971, 0.3842])


def style(ax):
    ax.set_xlim(0, 2)
    ax.set_ylim(0, 0.03)
    ax.set_xticks(xticks)
    ax.set_yticks(yticks)
    ax.xaxis.set_minor_locator(MultipleLocator(0.1))
    ax.yaxis.set_minor_locator(MultipleLocator(0.0025))
    ax.yaxis.set_major_formatter(FormatStrFormatter('%.3f'))
    ax.xaxis.set_major_formatter(FuncFormatter(lambda v, p: f'{v:g}'))
    ax.tick_params(which='major', direction='out', length=4, width=1, color='#8C8C8C',
                   labelsize=10.5, pad=4)
    ax.tick_params(which='minor', direction='in', length=3, width=0.8, color='#8C8C8C')
    for lab in ax.get_xticklabels() + ax.get_yticklabels():
        lab.set_fontweight('bold')
    for s in ax.spines.values():
        s.set_color('#9A9A9A')
        s.set_linewidth(1.0)
    ax.set_xlabel('Fe (AFU)', fontsize=10.5, fontweight='bold', labelpad=2)
    ax.set_ylabel('Mn (AFU)', fontsize=10.5, fontweight='bold', labelpad=2)


def pts(*lists):
    a = np.array([p for lst in lists for p in lst])
    return a[:, 0], a[:, 1]


def draw_line(ax, seg, name, lw, z):
    (x0, y0), (x1, y1) = seg
    ax.plot([x0, x1], [y0, y1], color=LINE_COL[name], lw=lw, zorder=z, solid_capstyle='butt')


def label(ax, seg, text, xy, va):
    (x0, y0), (x1, y1) = seg
    ang = np.degrees(np.arctan2(y1 - y0, x1 - x0))
    ax.text(xy[0], xy[1], text, rotation=ang, rotation_mode='anchor', transform_rotates_text=True,
            ha='left', va=va, fontsize=12, color=TXT, zorder=7)


for ax in (ax_a, ax_b, ax_c, ax_d):
    style(ax)

# ---- (a) Olivine, all data ----
x, y = pts(lunar_olivine, lunar_olivine_core)
ax_a.scatter(x, y, s=18, marker='o', facecolor=C_LUN_F, edgecolor=C_LUN_E, linewidth=0.7, zorder=2)
x, y = pts(earth_olivine, earth_olivine_core)
ax_a.scatter(x, y, s=19, marker='o', facecolor=C_EARTH_F, edgecolor=C_EARTH_E, linewidth=0.7, zorder=2.5)

# ---- olivine lines + labels (a, b) ----
for ax, oc_text in ((ax_a, 'OC meteorites'), (ax_b, 'OC chondrites')):
    under = 1.5 if ax is ax_a else 3.5
    draw_line(ax, olivine_lines['OC'], 'OC', 2.0, under)
    draw_line(ax, olivine_lines['SNC'], 'SNC', 2.2, under)
    draw_line(ax, olivine_lines['CO'], 'CO', 1.6, under)
    draw_line(ax, olivine_lines['Earth'], 'Earth', 2.0, 4)
    draw_line(ax, olivine_lines['Moon'], 'Moon', 2.6, 4.2)
    label(ax, olivine_lines['OC'], oc_text, (0.95, 0.0226), 'bottom')
    label(ax, olivine_lines['SNC'], 'SNC (Mars)', (1.19, 0.0241), 'bottom')
    label(ax, olivine_lines['Earth'], 'Earth', (1.52, 0.0276), 'top')
    label(ax, olivine_lines['Moon'], 'Lunar meteorites (Moon)', (1.275, 0.0144), 'bottom')
    label(ax, olivine_lines['CO'], 'CO meteorites', (1.25, 0.0126), 'bottom')

# ---- (b) Olivine, MAC samples ----
x, y = pts(mac_olivine)
ax_b.scatter(x, y, s=48, marker='s', facecolor=C_MAC_F, edgecolor=C_MAC_E, linewidth=0.8, zorder=3)
x, y = pts(apollo_olivine)
ax_b.scatter(x, y, s=34, marker='D', facecolor=C_APO_F, edgecolor=C_APO_E, linewidth=0.8, zorder=3.2)

for ax in (ax_a, ax_b):
    x, y = pts(nhm_olivine)
    ax.scatter(x, y, s=46, marker='s', facecolor=C_RED_F, edgecolor=C_RED_E, linewidth=0.8, zorder=6)
    x, y = pts(jsc_olivine)
    ax.scatter(x, y, s=44, marker='o', facecolor=C_RED_F, edgecolor=C_RED_E, linewidth=0.8, zorder=6)

# ---- (c) Pyroxene, all data ----
x, y = pts(lunar_pyroxene, lunar_pyroxene_core)
ax_c.scatter(x, y, s=18, marker='D', facecolor=C_LUN_F, edgecolor=C_LUN_E, linewidth=0.7, zorder=2)
x, y = pts(earth_pyroxene, earth_pyroxene_core)
ax_c.scatter(x, y, s=18, marker='D', facecolor=C_EARTH_F, edgecolor=C_EARTH_E, linewidth=0.7, zorder=2.5)

for ax, lines in ((ax_c, pyroxene_lines_c), (ax_d, pyroxene_lines_d)):
    draw_line(ax, lines['HED'], 'HED', 2.4, 4)
    draw_line(ax, lines['SNC'], 'SNC', 2.4, 4)
    draw_line(ax, lines['Earth'], 'Earth', 1.8, 4)
    draw_line(ax, lines['Moon'], 'Moon', 1.6, 4.2)
    label(ax, lines['HED'], 'HED (Vesta)', (0.645, 0.0226), 'bottom')
    label(ax, lines['SNC'], 'SNC (Mars)', (0.80, 0.0240), 'bottom')
    label(ax, lines['Earth'], 'Earth', (0.985, 0.0258), 'top')
    label(ax, lines['Moon'], 'Lunar meteorites (Moon)', (1.29, 0.0189), 'bottom')

# ---- (d) Pyroxene, MAC samples ----
x, y = pts(mac_pyroxene)
ax_d.scatter(x, y, s=52, marker='s', facecolor=C_MAC_F, edgecolor=C_MAC_E, linewidth=0.8, zorder=3)
x, y = pts(apollo_pyroxene)
ax_d.scatter(x, y, s=36, marker='D', facecolor=C_APO_F, edgecolor=C_APO_E, linewidth=0.8, zorder=3.2)

for ax in (ax_c, ax_d):
    x, y = pts(nhm_pyroxene)
    ax.scatter(x, y, s=46, marker='s', facecolor=C_RED_F, edgecolor=C_RED_E, linewidth=0.8, zorder=6)
    x, y = pts(jsc_pyroxene)
    ax.scatter(x, y, s=44, marker='o', facecolor=C_RED_F, edgecolor=C_RED_E, linewidth=0.8, zorder=6)

# (d) top border drawn as partial grey rule
ax_d.spines['top'].set_visible(False)
ax_d.axhline(0.030, xmin=0.01, xmax=0.94, color='#8C8C8C', lw=1.6, zorder=1)
ax_c.spines['top'].set_color('#8C8C8C')
ax_c.spines['top'].set_linewidth(1.6)

# panel titles
ax_a.text(0.015, 0.945, '(a) Olivine', transform=ax_a.transAxes, fontsize=23, va='center', ha='left', zorder=8)
ax_b.text(0.031, 0.948, '(b) Olivine', transform=ax_b.transAxes, fontsize=23, va='center', ha='left', zorder=8)
ax_c.text(0.936, 0.093, '(c) Pyroxene', transform=ax_c.transAxes, fontsize=23, va='center', ha='right', zorder=8)
ax_d.text(0.915, 0.081, '(d) Pyroxene', transform=ax_d.transAxes, fontsize=23, va='center', ha='right', zorder=8)

# ---- legend ----
h1 = [Line2D([], [], ls='none', marker='D', ms=5.5, mfc=C_EARTH_F, mec=C_EARTH_E, mew=0.8),
      Line2D([], [], ls='none', marker='D', ms=9.5, mfc='#7A7A7A', mec='#2E2E2E', mew=1.0),
      Line2D([], [], ls='none', marker='D', ms=5.5, mfc='#D0D0D0', mec='#555555', mew=0.8)]
l1 = ['Earth', 'Moon (Apollo Mg-Suite)', 'Moon (lunar meteorites)']
h2 = [Line2D([], [], ls='none', marker='s', ms=15, mfc=C_MAC_F, mec='#303030', mew=1.0),
      Line2D([], [], ls='none', marker='s', ms=15, mfc=C_RED_F, mec='#303030', mew=1.0),
      Line2D([], [], ls='none', marker='o', ms=16, mfc=C_RED_F, mec='#600000', mew=1.0)]
l2 = ['MAC 88104/05', 'MAC 88105,159 Clast NHM', 'MAC 88105,159 Clast JSC']
leg1 = fig.legend(h1, l1, loc='upper left', bbox_to_anchor=(0.064, 1.006), frameon=False,
                  fontsize=14.5, handlelength=1.0, handletextpad=0.4, labelspacing=0.03, borderpad=0.2)
leg2 = fig.legend(h2, l2, loc='upper left', bbox_to_anchor=(0.388, 1.006), frameon=False,
                  fontsize=14.5, handlelength=1.3, handletextpad=0.45, labelspacing=0.03, borderpad=0.2)

fig.savefig('out.png', dpi=100)
